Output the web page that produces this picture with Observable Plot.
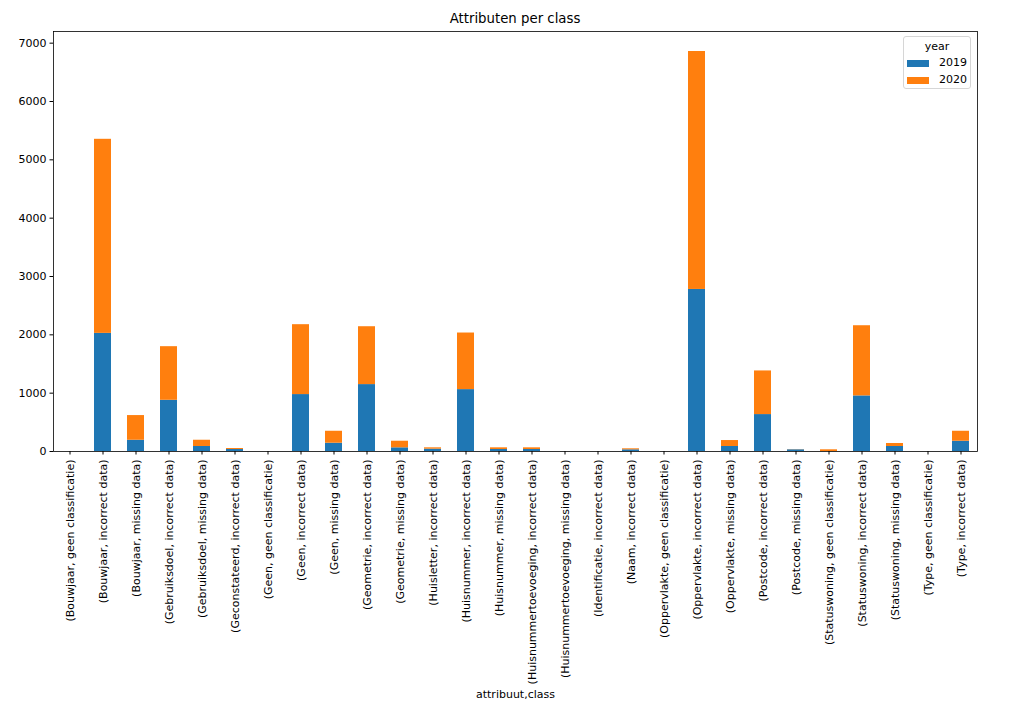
<!DOCTYPE html>
<html>
<head>
<meta charset="utf-8">
<script src="https://cdn.jsdelivr.net/npm/d3@7"></script>
<script src="https://cdn.jsdelivr.net/npm/@observablehq/plot@0.6"></script>
<style>
  body { margin: 0; background: #fff; font-family: "DejaVu Sans", sans-serif; }
  #wrap { position: relative; width: 1029px; height: 708px; }
  #title { height: 29px; width: 924px; margin-left: 53px; text-align: center; font-size: 13.3px; line-height: 13px; box-sizing: border-box; }
  #title span { position: relative; top: 12px; }
  #legend { position: absolute; left: 903px; top: 36px; width: 68px; height: 53px; border: 1px solid #d6d6d6; border-radius: 3px; box-sizing: border-box; font-size: 11px; background: rgba(255,255,255,0.8); }
  #legend .t { position: absolute; top: 3px; left: 0; width: 100%; text-align: center; }
  #legend .row { position: absolute; left: 3px; height: 12px; }
  #legend .sw { position: absolute; left: 0; top: 2px; width: 22px; height: 7px; }
  #legend .lab { position: absolute; left: 32px; top: -2px; }
</style>
</head>
<body>
<div id="wrap">
  <div id="title"><span>Attributen per class</span></div>
  <div id="chart"></div>
  <div id="legend"></div>
</div>
<script>
const attribuut = ["Bouwjaar","Bouwjaar","Bouwjaar","Gebruiksdoel","Gebruiksdoel","Geconstateerd","Geen","Geen","Geen","Geometrie","Geometrie","Huisletter","Huisnummer","Huisnummer","Huisnummertoevoeging","Huisnummertoevoeging","Identificatie","Naam","Oppervlakte","Oppervlakte","Oppervlakte","Postcode","Postcode","Statuswoning","Statuswoning","Statuswoning","Type","Type"];
const klasse = ["geen classificatie","incorrect data","missing data","incorrect data","missing data","incorrect data","geen classificatie","incorrect data","missing data","incorrect data","missing data","incorrect data","incorrect data","missing data","incorrect data","missing data","incorrect data","incorrect data","geen classificatie","incorrect data","missing data","incorrect data","missing data","geen classificatie","incorrect data","missing data","geen classificatie","incorrect data"];
const values2019 = [0,2025,193,878,86,34,0,976,142,1147,63,40,1061,34,34,0,0,29,0,2778,86,633,29,0,953,86,0,176];
const values2020 = [0,3327,423,919,107,17,0,1198,205,992,113,23,970,29,29,0,0,17,0,4079,102,748,3,29,1203,51,0,171];
const years = ["2019","2020"];
const colors = ["#1f77b4","#ff7f0e"];
const yTicks = [0,1000,2000,3000,4000,5000,6000,7000];

const labels = attribuut.map((a, i) => `(${a}, ${klasse[i]})`);
const rows = [];
labels.forEach((l, i) => {
  rows.push({label: l, year: "2019", value: values2019[i]});
  rows.push({label: l, year: "2020", value: values2020[i]});
});

const chart = Plot.plot({
  width: 1029,
  height: 679,
  marginLeft: 53,
  marginRight: 52,
  marginTop: 2,
  marginBottom: 257,
  style: {fontFamily: "DejaVu Sans, sans-serif", fontSize: "11px", color: "#000", background: "#fff"},
  x: {domain: labels, paddingInner: 0.5, paddingOuter: 0.25},
  y: {domain: [0, 7200]},
  color: {domain: years, range: colors},
  marks: [
    Plot.barY(rows, {x: "label", y: "value", fill: "year", order: years}),
    Plot.axisY({ticks: yTicks, tickSize: 3.5, tickPadding: 3.5, label: null, tickFormat: d => String(d)}),
    Plot.axisX({tickSize: 3.5, tickPadding: 4.5, tickRotate: -90, label: "attribuut,class", labelAnchor: "center", labelOffset: 246}),
    Plot.frame({stroke: "#000", strokeWidth: 0.8})
  ]
});
document.getElementById("chart").appendChild(chart);

const leg = document.getElementById("legend");
leg.innerHTML = '<div class="t">year</div>' + years.map((y, i) =>
  `<div class="row" style="top:${21 + i * 17}px"><div class="sw" style="background:${colors[i]}"></div><div class="lab">${y}</div></div>`
).join("");
</script>
</body>
</html>
